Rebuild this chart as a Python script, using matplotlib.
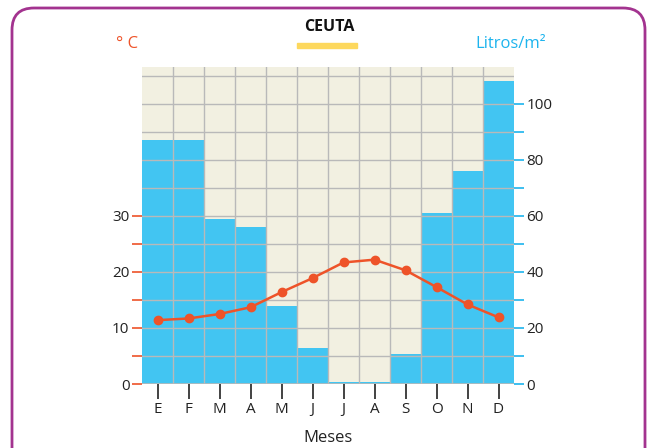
import matplotlib
matplotlib.use("Agg")
import matplotlib.pyplot as plt
from matplotlib.patches import FancyBboxPatch, Rectangle
from matplotlib.transforms import IdentityTransform
import numpy as np

plt.rcParams['font.family'] = ['Open Sans', 'DejaVu Sans']

months = ["E", "F", "M", "A", "M", "J", "J", "A", "S", "O", "N", "D"]
precip = [87.1, 87.1, 58.9, 56.1, 27.9, 12.9, 0.7, 0.7, 10.7, 61.1, 76.1, 108.2]
temp = [11.4, 11.7, 12.5, 13.7, 16.4, 18.9, 21.7, 22.2, 20.3, 17.3, 14.2, 11.9]
precip_ticks = [0, 20, 40, 60, 80, 100]
temp_ticks = [0, 10, 20, 30]

BAR = "#42c5f2"
BG = "#f2f0e1"
GRID = "#b9b9b9"
RED = "#ee5329"
CYAN = "#1db4ee"

fig = plt.figure(figsize=(6.57, 4.48), dpi=100)
W, H = 657, 448

# rounded border (pixel coords, origin bottom-left)
border = FancyBboxPatch((12, -30), 645 - 12, H - 8 + 30,
                        boxstyle="round,pad=0,rounding_size=22",
                        transform=IdentityTransform(), facecolor="none",
                        edgecolor="#a3338f", linewidth=2.0, clip_on=False)
fig.patches.append(border)

left, right, top, bottom = 142, 514, 67, 384
ax = fig.add_axes([left / W, 1 - bottom / H, (right - left) / W, (bottom - top) / H])
x = np.arange(len(months))
ymax = 113.2
ax.set_xlim(-0.5, len(months) - 0.5)
ax.set_ylim(0, ymax)
ax.set_facecolor(BG)
ax.bar(x, precip, width=1.0, color=BAR, zorder=1, linewidth=0)

for yv in np.arange(10, ymax, 10):
    ax.axhline(yv, color=GRID, lw=1.0, zorder=2)
for xv in np.arange(0.5, len(months) - 1, 1):
    ax.axvline(xv, color=GRID, lw=1.0, zorder=2)
ax.axhline(0, color=GRID, lw=1.2, zorder=2)

for s in ax.spines.values():
    s.set_visible(False)

ax.set_xticks(x)
ax.set_xticklabels(months)
ax.tick_params(axis='x', colors="#222222", length=11, width=1.2, labelsize=11, pad=2)
ax.set_xlabel("Meses", fontsize=12, color="#222222", labelpad=9)

ax2 = ax.twinx()
ax2.set_ylim(0, ymax / 2)
ax2.patch.set_visible(False)
for s in ax2.spines.values():
    s.set_visible(False)

# precipitation axis on the right
ax.yaxis.tick_right()
ax.yaxis.set_label_position("right")
ax.set_yticks(precip_ticks)
ax.set_yticks([10, 30, 50, 70, 90], minor=True)
ax.tick_params(axis='y', which='both', colors=CYAN, length=7, width=1.2,
               labelcolor="#222222", labelsize=11, pad=2,
               left=False, labelleft=False, right=True, labelright=True)

# temperature axis on the left
ax2.yaxis.tick_left()
ax2.set_yticks(temp_ticks)
ax2.set_yticks([5, 15, 25], minor=True)
ax2.tick_params(axis='y', which='both', colors=RED, length=7, width=1.2,
                labelcolor="#222222", labelsize=11, pad=2,
                right=False, labelright=False, left=True, labelleft=True)
ax2.plot(x, temp, color=RED, lw=1.8, marker='o', markersize=6, zorder=5)

fig.text(329 / W, 1 - 27 / H, "CEUTA", ha='center', va='center',
         fontsize=11.5, fontweight='bold', color="#111111")
fig.patches.append(Rectangle((297 / W, 1 - 48 / H), 60 / W, 5 / H,
                             transform=fig.transFigure, color="#fdd85d"))
fig.text(116 / W, 1 - 44 / H, "° C", ha='left', va='center', fontsize=12, color=RED)
fig.text(546 / W, 1 - 44 / H, "Litros/m²", ha='right', va='center', fontsize=12, color=CYAN)

fig.savefig("out.png", dpi=100)
